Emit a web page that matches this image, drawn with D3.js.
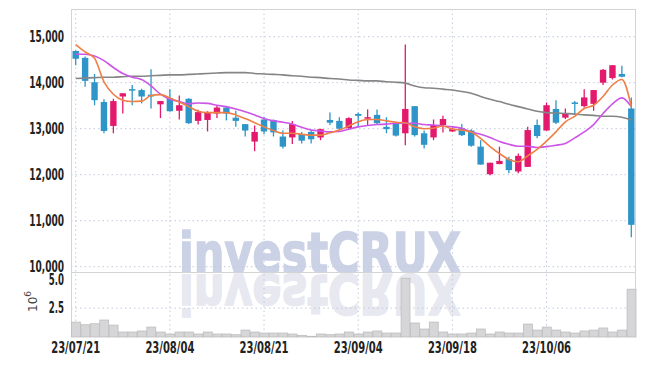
<!DOCTYPE html>
<meta charset="utf-8">
<html>
<head>
  <title>Candlestick chart</title>
  <style>
    body { margin: 0; background: #fff; }
    svg { display: block; }
    .axis text {
      font-family: "DejaVu Sans Condensed", "DejaVu Sans", sans-serif;
      font-weight: bold;
      font-size: 15px;
      fill: #222;
    }
    .grid line {
      stroke: #c3c9dd;
      stroke-dasharray: 1.5,3;
    }
  </style>
  <script src="https://cdn.jsdelivr.net/npm/d3@7"></script>
</head>
<body>
<svg width="645" height="366"></svg>
<script>
  // trading days
  var dates = [
    "23/07/21","23/07/24","23/07/25","23/07/26","23/07/27","23/07/28","23/07/31","23/08/01","23/08/02","23/08/03",
    "23/08/04","23/08/07","23/08/08","23/08/09","23/08/10","23/08/11","23/08/14","23/08/16","23/08/17","23/08/18",
    "23/08/21","23/08/22","23/08/23","23/08/24","23/08/25","23/08/28","23/08/29","23/08/30","23/08/31","23/09/01",
    "23/09/04","23/09/05","23/09/06","23/09/07","23/09/08","23/09/11","23/09/12","23/09/13","23/09/14","23/09/15",
    "23/09/18","23/09/19","23/09/20","23/09/21","23/09/22","23/09/25","23/09/26","23/09/27","23/10/04","23/10/05",
    "23/10/06","23/10/10","23/10/11","23/10/12","23/10/13","23/10/16","23/10/17","23/10/18","23/10/19","23/10/20"
  ];
  var open = [
    14690,14540,14010,13580,13060,13700,13860,13840,13740,13530,
    13660,13390,13650,13170,13190,13330,13460,13240,13100,12720,
    13200,13190,12830,12810,12880,12930,12810,13190,13170,13010,
    13320,13220,13300,13040,13130,12900,13490,12900,12810,13080,
    12940,13010,12960,12610,12010,12230,12340,12070,12170,13080,
    12960,13430,13240,13570,13490,13540,14000,14100,14190,13440
  ];
  var high = [
    14700,14570,14190,13640,13650,13770,13950,13870,14290,13600,
    13860,13720,13660,13410,13380,13510,13490,13390,13100,13070,
    13260,13200,12960,13170,12930,12970,13000,13350,13250,13250,
    13350,13420,13420,13250,13150,14830,13490,12960,13200,13280,
    13020,13100,12990,12750,12260,12610,12390,12460,13040,13200,
    13570,13620,13440,13600,13860,13840,14300,14380,14370,13680
  ];
  var low = [
    14380,13910,13510,12900,12900,13330,13510,13550,13440,13230,
    13370,13200,13100,13090,12940,13230,13180,13040,12830,12510,
    12880,12830,12570,12670,12680,12680,12750,13080,12970,12990,
    13060,13080,13090,12900,12830,12640,12830,12570,12750,12920,
    12930,12840,12610,12220,11990,12230,12030,12030,12170,12790,
    12960,13100,13210,13300,13460,13390,13950,14070,14120,10640
  ];
  var close = [
    14520,14040,13620,12950,13600,13770,13830,13700,13700,13600,
    13380,13510,13120,13360,13360,13460,13330,13170,12960,12930,
    12940,12920,12610,13100,12740,12770,12990,13130,13000,13230,
    13280,13250,13120,12990,12850,13430,12860,12650,13080,13210,
    12990,12860,12630,12220,12260,12300,12100,12410,12970,12840,
    13510,13130,13320,13540,13680,13840,14280,14380,14130,10910
  ];
  // volume in millions of shares
  var volume = [
    1.29,1.06,1.15,1.47,1.03,0.43,0.43,0.52,0.86,0.43,
    0.26,0.43,0.43,0.26,0.43,0.26,0.26,0.20,0.60,0.43,
    0.34,0.34,0.34,0.26,0.14,0.06,0.26,0.20,0.26,0.43,
    0.26,0.43,0.52,0.34,0.34,5.09,1.21,0.69,1.29,0.43,
    0.26,0.26,0.34,0.69,0.26,0.43,0.34,0.34,1.12,0.60,
    0.86,0.60,0.43,0.34,0.52,0.60,0.78,0.43,0.60,4.14
  ];
  // moving averages as drawn
  var ma5 = [
    14830,14670,14530,14020,13750,13620,13590,13600,13720,13740,
    13670,13580,13480,13380,13350,13350,13350,13300,13220,13130,
    13040,12960,12900,12900,12880,12860,12860,12910,12970,13060,
    13150,13200,13200,13170,13140,13130,13040,13000,13010,13060,
    12990,12970,12930,12790,12610,12460,12330,12280,12410,12550,
    12730,12930,13150,13270,13440,13510,13700,13950,14070,13480
  ];
  var ma20 = [
    14620,14620,14580,14480,14330,14200,14120,14070,13930,13750,
    13640,13590,13540,13560,13550,13510,13480,13430,13370,13300,
    13220,13170,13140,13100,13030,12970,12950,12930,12940,12990,
    13040,13070,13090,13100,13120,13120,13120,13090,13080,13060,
    13040,13010,12930,12880,12810,12720,12660,12620,12620,12590,
    12610,12640,12680,12800,12930,13090,13330,13540,13670,13480
  ];
  var ma120 = [
    14090,14100,14110,14120,14120,14130,14140,14140,14150,14160,
    14170,14170,14180,14190,14200,14210,14220,14220,14220,14200,
    14190,14180,14170,14150,14140,14120,14110,14090,14080,14060,
    14050,14040,14040,14020,14010,13990,13930,13890,13880,13860,
    13840,13810,13770,13700,13640,13590,13530,13480,13430,13380,
    13350,13340,13330,13320,13300,13290,13270,13270,13250,13190
  ];

  var xTickLabels = ["23/07/21","23/08/04","23/08/21","23/09/04","23/09/18","23/10/06"];
  var priceTicks = [10000, 11000, 12000, 13000, 14000, 15000];
  var volumeTicks = [2.5, 5.0];

  var upColor = "#e2196c";
  var downColor = "#2f95c8";

  var svg = d3.select("svg");

  // plot box: price panel on top, volume panel below
  var plot = {left: 71, right: 636, top: 9, split: 272, bottom: 337};

  var x = d3.scaleBand().domain(dates).range([plot.left, plot.right]);
  var y = d3.scaleLinear().domain([9885, 15602]).range([plot.split, plot.top]);
  var yVol = d3.scaleLinear().domain([0, 5.63]).range([plot.bottom, plot.split]);
  var cx = function(d) { return x(d) + x.bandwidth() / 2; };

  // watermark with reflection
  var wm = svg.append("g")
    .style("font-family", "DejaVu Sans").style("font-weight", "bold").style("font-size", "55px");
  wm.append("text")
    .attr("x", 320).attr("y", plot.split - 0.5)
    .attr("text-anchor", "middle")
    .attr("textLength", 282).attr("lengthAdjust", "spacingAndGlyphs")
    .style("fill", "#cbd2e6").style("stroke", "#cbd2e6").style("stroke-width", 1.6)
    .text("investCRUX");
  wm.append("text")
    .attr("x", 320).attr("y", plot.split - 0.5)
    .attr("transform", "translate(0," + (plot.split * 2 + 2) + ") scale(1,-1)")
    .attr("text-anchor", "middle")
    .attr("textLength", 282).attr("lengthAdjust", "spacingAndGlyphs")
    .style("fill", "#e7e8f0").style("stroke", "#e7e8f0").style("stroke-width", 1.6)
    .text("investCRUX");

  // grid lines
  var grid = svg.append("g").attr("class", "grid");
  grid.selectAll(".hp").data(priceTicks).enter().append("line")
    .attr("x1", plot.left).attr("x2", plot.right)
    .attr("y1", function(d) { return y(d); }).attr("y2", function(d) { return y(d); });
  grid.selectAll(".hv").data([2.5]).enter().append("line")
    .attr("x1", plot.left).attr("x2", plot.right)
    .attr("y1", function(d) { return yVol(d); }).attr("y2", function(d) { return yVol(d); });
  grid.selectAll(".vx").data(xTickLabels).enter().append("line")
    .attr("x1", cx).attr("x2", cx)
    .attr("y1", plot.top).attr("y2", plot.bottom);

  // frame
  var frame = svg.append("g").style("stroke", "#d4d4d4").style("stroke-width", 1);
  frame.append("line").attr("x1", plot.left).attr("x2", plot.right).attr("y1", plot.top + 0.5).attr("y2", plot.top + 0.5);
  frame.append("line").attr("x1", plot.left + 0.5).attr("x2", plot.left + 0.5).attr("y1", plot.top).attr("y2", plot.bottom);
  frame.append("line").attr("x1", plot.right - 0.5).attr("x2", plot.right - 0.5).attr("y1", plot.top).attr("y2", plot.bottom);
  frame.append("line").attr("x1", plot.left).attr("x2", plot.right).attr("y1", plot.split + 0.5).attr("y2", plot.split + 0.5);

  // volume bars
  svg.append("g").selectAll("rect").data(dates).enter().append("rect")
    .attr("x", function(d) { return x(d) + 0.5; })
    .attr("width", x.bandwidth() - 0.5)
    .attr("y", function(d, i) { return yVol(volume[i]); })
    .attr("height", function(d, i) { return plot.bottom - yVol(volume[i]); })
    .style("fill", "#d6d6d8")
    .style("stroke", "#bdbdbd")
    .style("stroke-width", 0.8);

  // candles
  var candles = svg.append("g").selectAll("g").data(dates).enter().append("g")
    .style("fill", function(d, i) { return close[i] >= open[i] ? upColor : downColor; })
    .style("stroke", function(d, i) { return close[i] >= open[i] ? upColor : downColor; });
  candles.append("line")
    .attr("x1", cx).attr("x2", cx)
    .attr("y1", function(d, i) { return y(high[i]); })
    .attr("y2", function(d, i) { return y(low[i]); })
    .style("stroke-width", 1.3);
  candles.append("rect")
    .attr("x", function(d) { return cx(d) - 3.2; })
    .attr("width", 6.4)
    .attr("y", function(d, i) { return y(Math.max(open[i], close[i])); })
    .attr("height", function(d, i) { return Math.max(1.5, Math.abs(y(open[i]) - y(close[i]))); })
    .style("stroke", "none");

  // moving average lines
  var maLine = function(vals) {
    return d3.line()
      .x(function(d) { return cx(d); })
      .y(function(d, i) { return y(vals[i]); })
      .curve(d3.curveMonotoneX)(dates);
  };
  [[ma120, "#858585"], [ma20, "#cc55e8"], [ma5, "#ef7f45"]].forEach(function(m) {
    svg.append("path")
      .attr("d", maLine(m[0]))
      .style("fill", "none")
      .style("stroke", m[1])
      .style("stroke-width", 1.6);
  });

  // axes
  var yAxis = svg.append("g").attr("class", "axis")
    .attr("transform", "translate(" + plot.left + ",0)")
    .call(d3.axisLeft(y).tickValues(priceTicks).tickFormat(d3.format(",")).tickSize(0).tickPadding(7));
  var vAxis = svg.append("g").attr("class", "axis")
    .attr("transform", "translate(" + plot.left + ",0)")
    .call(d3.axisLeft(yVol).tickValues(volumeTicks).tickFormat(d3.format(".1f")).tickSize(0).tickPadding(7));
  var xAxis = svg.append("g").attr("class", "axis")
    .attr("transform", "translate(0," + plot.bottom + ")")
    .call(d3.axisBottom(x).tickValues(xTickLabels).tickSize(0).tickPadding(5));

  // the reference uses a narrow font: squeeze labels to its widths
  var charWidth = function(c) {
    if (c === ",") return 3.3;
    if (c === ".") return 2.6;
    if (c === "/") return 5.6;
    return 6.3;
  };
  [yAxis, vAxis, xAxis].forEach(function(a) {
    a.select(".domain").remove();
    a.selectAll("text")
      .attr("textLength", function() {
        return d3.sum(this.textContent.split(""), charWidth);
      })
      .attr("lengthAdjust", "spacingAndGlyphs");
  });

  // volume unit label
  var unit = svg.append("text")
    .attr("transform", "translate(37,312) rotate(-90)")
    .style("font-family", "DejaVu Sans").style("font-size", "12px").style("fill", "#444");
  unit.append("tspan").text("10");
  unit.append("tspan").attr("dy", -6).style("font-size", "9px").text("6");
</script>
</body>
</html>
